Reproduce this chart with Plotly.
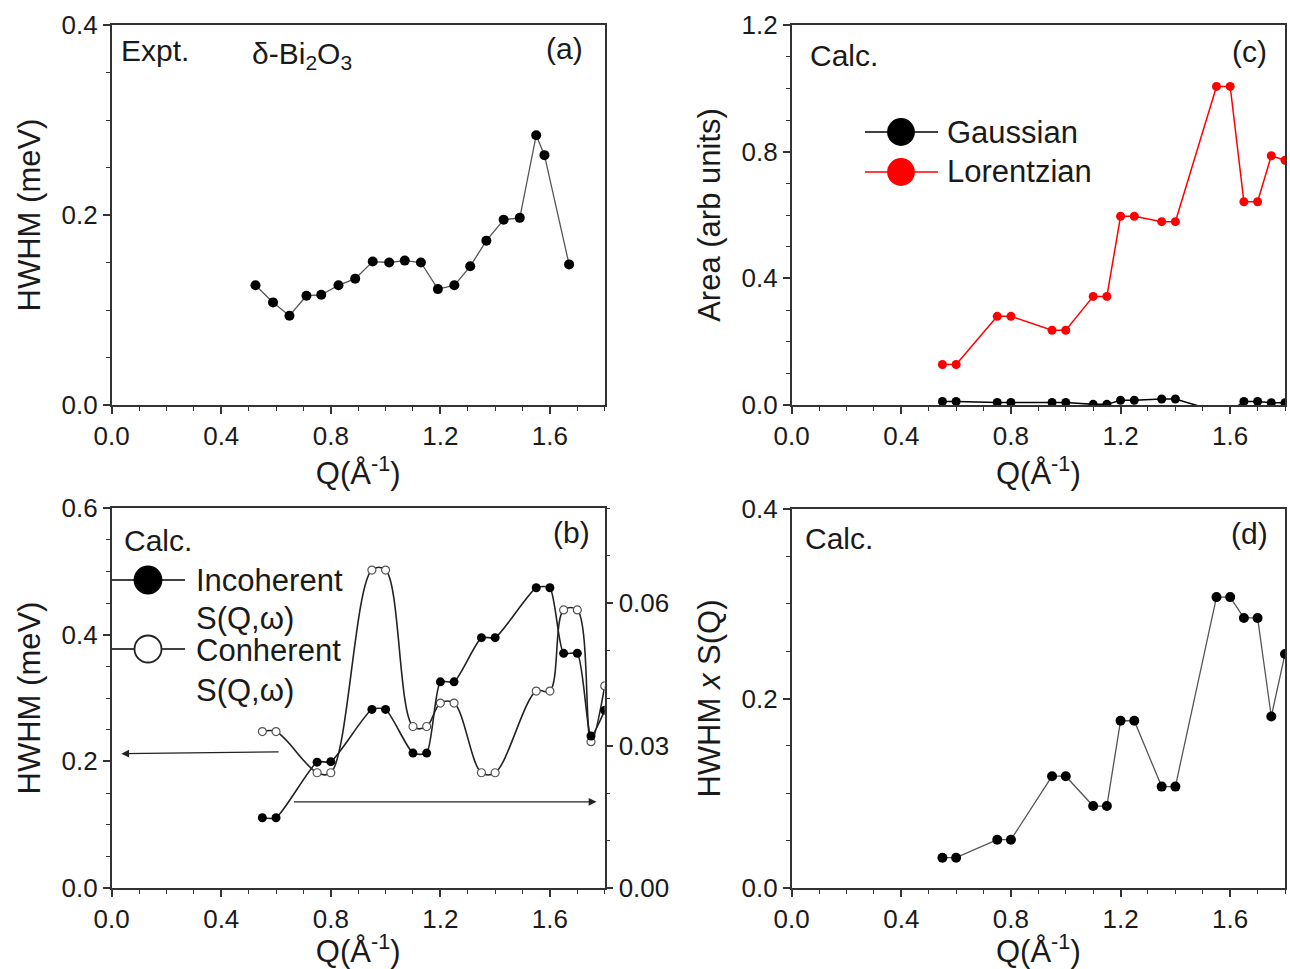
import plotly.graph_objects as go

# ---------------- data ----------------
# (a) experiment
q_expt = [0.525, 0.589, 0.649, 0.711, 0.765, 0.828, 0.889, 0.953, 1.013, 1.070,
          1.129, 1.191, 1.251, 1.309, 1.368, 1.431, 1.490, 1.550, 1.580, 1.670]
hwhm_expt = [0.126, 0.108, 0.094, 0.115, 0.116, 0.126, 0.133, 0.151, 0.150, 0.152,
             0.150, 0.122, 0.126, 0.146, 0.173, 0.195, 0.197, 0.284, 0.263, 0.148]

# calculated Q grid (b), (c), (d)
q_calc = [0.55, 0.60, 0.75, 0.80, 0.95, 1.00, 1.10, 1.15, 1.20, 1.25,
          1.35, 1.40, 1.55, 1.60, 1.65, 1.70, 1.75, 1.80]

# (b) HWHM
hwhm_incoherent = [0.0148, 0.0148, 0.0265, 0.0266, 0.0376, 0.0376, 0.0284, 0.0284, 0.0434, 0.0434,
                   0.0527, 0.0527, 0.0632, 0.0632, 0.0494, 0.0494, 0.0320, 0.0374]   # right axis
hwhm_coherent = [0.247, 0.247, 0.182, 0.182, 0.502, 0.502, 0.255, 0.255, 0.292, 0.292,
                 0.182, 0.182, 0.311, 0.311, 0.439, 0.439, 0.231, 0.319]              # left axis

# (c) areas
area_gaussian = [0.011, 0.011, 0.008, 0.008, 0.008, 0.008, 0.002, 0.002, 0.015, 0.015,
                 0.019, 0.019, -0.02, -0.02, 0.011, 0.011, 0.007, 0.007]
area_lorentzian = [0.128, 0.128, 0.280, 0.280, 0.236, 0.236, 0.343, 0.343, 0.596, 0.596,
                   0.579, 0.579, 1.006, 1.006, 0.642, 0.642, 0.787, 0.773]

# (d) HWHM x S(Q)
hwhm_sq = [0.032, 0.032, 0.051, 0.051, 0.118, 0.118, 0.0865, 0.0865, 0.1765, 0.1765,
           0.107, 0.107, 0.307, 0.307, 0.285, 0.285, 0.181, 0.247]

# ---------------- styling ----------------
W, H = 1290, 969
FONT = "Liberation Sans, Arial, sans-serif"
TXT = "#1a1a1a"
AX = "#333333"


def px(x):
    return x / W


def py(y):
    return 1 - y / H


XA_DOM = [px(111.7), px(604.7)]
XC_DOM = [px(791.7), px(1285)]
Y_TOP = [py(405), py(25)]
Y_BOT = [py(888), py(508)]

QTITLE = "Q(Å<sup>-1</sup>)"


def xaxis(dom, anchor):
    return dict(domain=dom, anchor=anchor, range=[0, 1.8], dtick=0.4, tick0=0,
                tickformat=".1f", showline=True, linecolor=AX, linewidth=1.5, mirror=True,
                ticks="outside", ticklen=7, tickwidth=1.5, tickcolor=AX,
                showgrid=False, zeroline=False, automargin=False,
                tickfont=dict(size=26, family=FONT, color=TXT),
                minor=dict(ticks="outside", ticklen=4, tickwidth=1.2, tickcolor=AX, dtick=0.1),
                title=dict(text=QTITLE, font=dict(size=31, family=FONT, color=TXT), standoff=4))


def yaxis(dom, anchor, rng, dtick, minor, fmt, title, standoff=12):
    return dict(domain=dom, anchor=anchor, range=rng, dtick=dtick, tick0=0,
                tickformat=fmt, showline=True, linecolor=AX, linewidth=1.5, mirror=True,
                ticks="outside", ticklen=7, tickwidth=1.5, tickcolor=AX,
                showgrid=False, zeroline=False, automargin=False,
                tickfont=dict(size=26, family=FONT, color=TXT),
                minor=dict(ticks="outside", ticklen=4, tickwidth=1.2, tickcolor=AX, dtick=minor),
                title=dict(text=title, font=dict(size=31, family=FONT, color=TXT), standoff=standoff))


fig = go.Figure()

# (a)
fig.add_trace(go.Scatter(x=q_expt, y=hwhm_expt, mode="lines+markers", xaxis="x", yaxis="y",
                         line=dict(color="#555555", width=1.3),
                         marker=dict(color="black", size=10), showlegend=False))

# (c)
fig.add_trace(go.Scatter(x=q_calc, y=area_gaussian, mode="lines+markers", xaxis="x2", yaxis="y2",
                         line=dict(color="black", width=1.5),
                         marker=dict(color="black", size=9), showlegend=False))
fig.add_trace(go.Scatter(x=q_calc, y=area_lorentzian, mode="lines+markers", xaxis="x2", yaxis="y2",
                         line=dict(color="#ff0000", width=1.5),
                         marker=dict(color="#ff0000", size=9), showlegend=False))

# (b)
fig.add_trace(go.Scatter(x=q_calc, y=hwhm_coherent, mode="lines+markers", xaxis="x3", yaxis="y3",
                         line=dict(color="#222222", width=1.6, shape="spline", smoothing=1.0),
                         marker=dict(color="white", size=8, line=dict(color="#555555", width=1.2)),
                         showlegend=False))
fig.add_trace(go.Scatter(x=q_calc, y=hwhm_incoherent, mode="lines+markers", xaxis="x3", yaxis="y4",
                         line=dict(color="#222222", width=1.6, shape="spline", smoothing=0.6),
                         marker=dict(color="black", size=9), showlegend=False))

# (d)
fig.add_trace(go.Scatter(x=q_calc, y=hwhm_sq, mode="lines+markers", xaxis="x4", yaxis="y5",
                         line=dict(color="#555555", width=1.3),
                         marker=dict(color="black", size=10), showlegend=False))

layout = dict(
    width=W, height=H, margin=dict(l=0, r=0, t=0, b=0, autoexpand=False),
    paper_bgcolor="white", plot_bgcolor="white",
    font=dict(family=FONT, color=TXT),
    showlegend=False,
    xaxis=xaxis(XA_DOM, "y"),
    yaxis=yaxis(Y_TOP, "x", [0, 0.4], 0.2, 0.05, ".1f", "HWHM (meV)"),
    xaxis2=xaxis(XC_DOM, "y2"),
    yaxis2=yaxis(Y_TOP, "x2", [0, 1.2], 0.4, 0.1, ".1f", "Area (arb units)"),
    xaxis3=xaxis(XA_DOM, "y3"),
    yaxis3=yaxis(Y_BOT, "x3", [0, 0.6], 0.2, 0.05, ".1f", "HWHM (meV)"),
    yaxis4=dict(overlaying="y3", anchor="x3", side="right", range=[0, 0.08], dtick=0.03, tick0=0,
                tickformat=".2f", showline=True, linecolor=AX, linewidth=1.5,
                ticks="outside", ticklen=7, tickwidth=1.5, tickcolor=AX,
                showgrid=False, zeroline=False, automargin=False,
                tickfont=dict(size=26, family=FONT, color=TXT),
                minor=dict(ticks="outside", ticklen=4, tickwidth=1.2, tickcolor=AX, dtick=0.01)),
    xaxis4=xaxis(XC_DOM, "y5"),
    yaxis5=yaxis([py(888), py(509)], "x4", [0, 0.4], 0.2, 0.05, ".1f", "HWHM <i>x</i> S(Q)"),
)
fig.update_layout(**layout)

# ---------------- text labels ----------------
def label(text, x, y, anchor="left", size=30):
    fig.add_annotation(text=text, x=px(x), y=py(y), xref="paper", yref="paper",
                       xanchor=anchor, yanchor="middle", showarrow=False,
                       font=dict(size=size, family=FONT, color=TXT))

label("Expt.", 119, 50)
label("δ-Bi<sub>2</sub>O<sub>3</sub>", 250, 55)
label("(a)", 585, 48, anchor="right")
label("Calc.", 808, 55)
label("(c)", 1269, 52, anchor="right")
label("Calc.", 122, 540)
label("(b)", 592, 532, anchor="right")
label("Calc.", 803, 538)
label("(d)", 1270, 533, anchor="right")

# legend (b)
label("Incoherent", 194, 580, size=31)
label("S(Q,ω)", 194, 618, size=31)
label("Conherent", 194, 650, size=31)
label("S(Q,ω)", 194, 690, size=31)
# legend (c)
label("Gaussian", 945, 132, size=31)
label("Lorentzian", 945, 172, size=31)


def legend_symbol(cx, cy, d, fill, edge, linecolor, lw=1.5):
    fig.add_shape(type="line", xref="paper", yref="paper",
                  x0=px(cx - 36), x1=px(cx + 37), y0=py(cy), y1=py(cy),
                  line=dict(color=linecolor, width=lw))
    fig.add_shape(type="circle", xref="paper", yref="paper",
                  xsizemode="pixel", ysizemode="pixel", xanchor=px(cx), yanchor=py(cy),
                  x0=-d / 2, x1=d / 2, y0=-d / 2, y1=d / 2,
                  fillcolor=fill, line=dict(color=edge, width=1.8))


legend_symbol(148, 580, 27, "black", "black", "black")
legend_symbol(148, 649, 27, "white", "#222222", "black")
legend_symbol(901, 132, 26, "black", "black", "black")
legend_symbol(901, 172, 26, "#ff0000", "#ff0000", "#ff0000")

# arrows in (b)
fig.add_annotation(x=0.035, y=0.212, ax=0.615, ay=0.215, xref="x3", yref="y3",
                   axref="x3", ayref="y3", showarrow=True, arrowhead=2, arrowsize=1.2,
                   arrowwidth=1.3, arrowcolor="#222222", text="")
fig.add_annotation(x=1.77, y=0.136, ax=0.66, ay=0.136, xref="x3", yref="y3",
                   axref="x3", ayref="y3", showarrow=True, arrowhead=2, arrowsize=1.2,
                   arrowwidth=1.3, arrowcolor="#222222", text="")

fig.write_html("out.html")
